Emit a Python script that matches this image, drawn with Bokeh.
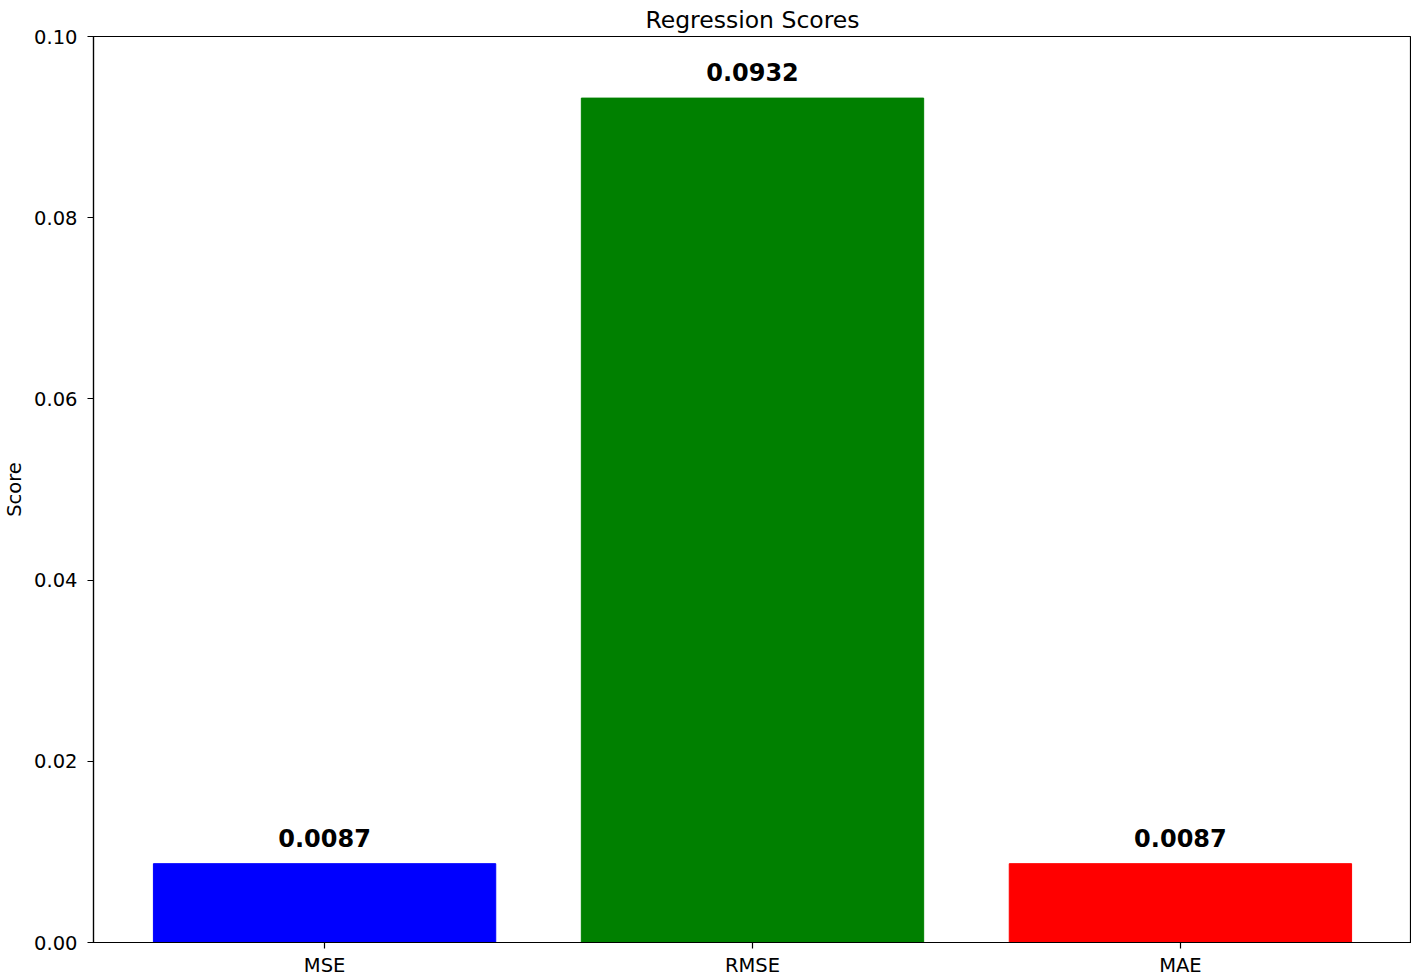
from bokeh.plotting import figure
from bokeh.models import Range1d, FixedTicker, PrintfTickFormatter, ColumnDataSource
from bokeh.core.properties import value
from bokeh.embed import file_html
from bokeh.resources import INLINE

metrics = ["MSE", "RMSE", "MAE"]
scores = [0.0087, 0.0932, 0.0087]
colors = ["#0000ff", "#008000", "#ff0000"]
labels = [f"{v:.4f}" for v in scores]
y_ticks = [0.00, 0.02, 0.04, 0.06, 0.08, 0.10]

xs = list(range(len(metrics)))
src = ColumnDataSource(dict(x=xs, top=scores, color=colors, label=labels))

p = figure(frame_width=1318, frame_height=906, output_backend="svg", toolbar_location=None,
           x_range=Range1d(-0.54, len(metrics) - 1 + 0.54), y_range=Range1d(0, 0.10),
           min_border_left=84, min_border_right=0, min_border_top=28, min_border_bottom=0,
           title="Regression Scores")
p.title.text_font = "DejaVu Sans"
p.title.text_font_size = "23.5px"
p.title.text_font_style = "normal"
p.title.text_color = "black"
p.title.align = "center"
p.title.standoff = 6

p.vbar(x="x", top="top", width=0.8, color="color", source=src)
p.text(x="x", y="top", text="label", source=src, text_align="center",
       text_baseline="bottom", y_offset=-17,
       text_font=value("DejaVu Sans"), text_font_size="24px",
       text_font_style="bold", text_color="black")

p.xgrid.visible = False
p.ygrid.visible = False
p.outline_line_color = "black"
p.outline_line_width = 1.2

p.xaxis.ticker = FixedTicker(ticks=xs)
p.xaxis.major_label_overrides = {i: m for i, m in enumerate(metrics)}
p.yaxis.ticker = FixedTicker(ticks=y_ticks)
p.yaxis.formatter = PrintfTickFormatter(format="%.2f")
p.yaxis.axis_label = "Score"

for ax in (p.xaxis[0], p.yaxis[0]):
    ax.major_tick_in = 0
    ax.major_tick_out = 6
    ax.minor_tick_in = 0
    ax.minor_tick_out = 0
    ax.major_tick_line_color = "black"
    ax.major_tick_line_width = 1.2
    ax.axis_line_color = "black"
    ax.axis_line_width = 1.2
    ax.major_label_text_font = "DejaVu Sans"
    ax.major_label_text_font_size = "19.5px"
    ax.major_label_text_color = "black"
    ax.axis_label_text_font = "DejaVu Sans"
    ax.axis_label_text_font_size = "19.5px"
    ax.axis_label_text_font_style = "normal"
    ax.axis_label_text_color = "black"

p.xaxis.major_label_standoff = 5
p.yaxis.major_label_standoff = 10
p.yaxis.axis_label_standoff = 5

open("out.html", "w").write(file_html(p, INLINE))
